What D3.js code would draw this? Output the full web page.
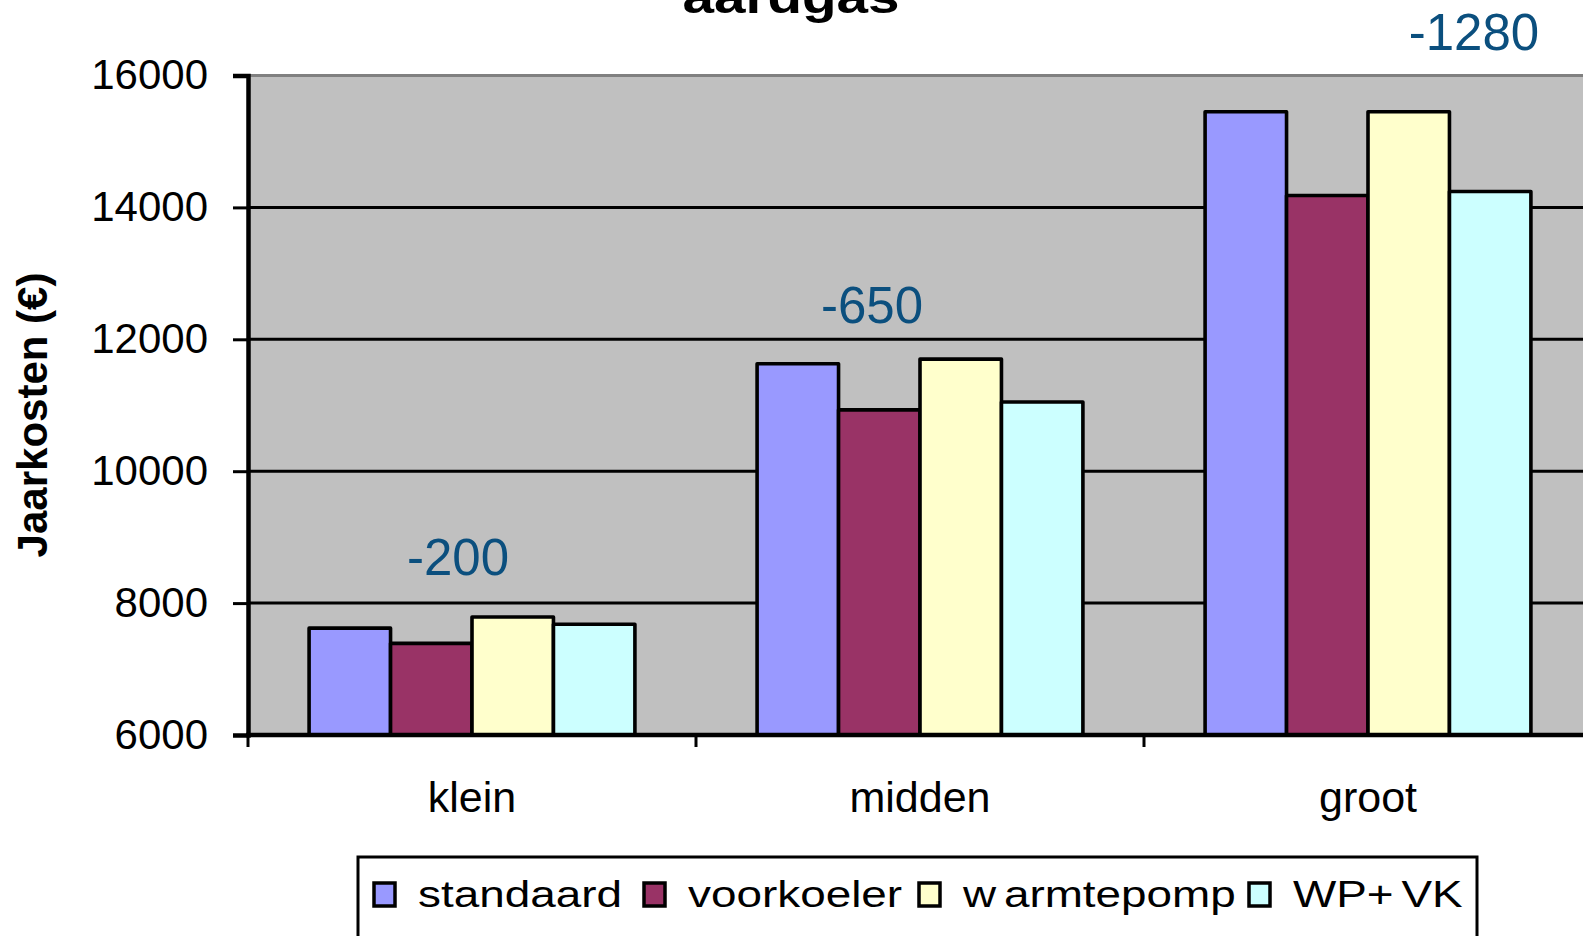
<!DOCTYPE html>
<html>
<head>
<meta charset="utf-8">
<script src="https://cdn.jsdelivr.net/npm/d3@7/dist/d3.min.js"></script>
<style>
  html, body { margin: 0; padding: 0; background: #fff; overflow: hidden; }
  svg { display: block; font-family: "Liberation Sans", Arial, sans-serif; }
</style>
</head>
<body>
<svg id="chart" width="1583" height="936"></svg>
<script>
// data
var categories = ["klein", "midden", "groot"];
var seriesNames = ["standaard", "voorkoeler", "w armtepomp", "WP+ VK"];
var standaard   = [7620, 11630, 15450];
var voorkoeler  = [7390, 10930, 14180];
var warmtepomp  = [7790, 11700, 15450];
var wpvk        = [7680, 11050, 14240];
var diffLabels  = ["-200", "-650", "-1280"];
var yTicks      = [6000, 8000, 10000, 12000, 14000, 16000];

var colors = ["#9999FF", "#993366", "#FFFFCC", "#CCFFFF"];
var values = [standaard, voorkoeler, warmtepomp, wpvk];

var svg = d3.select("#chart");

// plot area (right side runs past the window, like the original)
var plotLeft = 248, plotTop = 75.5, plotBottom = 735, catW = 448;
var plotRight = plotLeft + catW * categories.length;

var x = d3.scaleBand().domain(categories).range([plotLeft, plotRight]);
var xs = d3.scaleBand().domain(d3.range(seriesNames.length))
  .range([0, x.bandwidth()]).paddingOuter(0.75).paddingInner(0);
var y = d3.scaleLinear().domain([6000, 16000]).range([plotBottom, plotTop]);

svg.append("rect")
  .attr("x", plotLeft).attr("y", plotTop)
  .attr("width", plotRight - plotLeft).attr("height", plotBottom - plotTop)
  .attr("fill", "#C0C0C0");

// gridlines
svg.append("g").selectAll("line")
  .data(yTicks.filter(function(d){ return d > 6000 && d < 16000; }))
  .join("line")
  .attr("x1", plotLeft).attr("x2", plotRight)
  .attr("y1", function(d){ return y(d); }).attr("y2", function(d){ return y(d); })
  .attr("stroke", "#000").attr("stroke-width", 3);

// top border of plot
svg.append("line")
  .attr("x1", plotLeft).attr("x2", plotRight)
  .attr("y1", y(16000)).attr("y2", y(16000))
  .attr("stroke", "#808080").attr("stroke-width", 3);

// bars
var rows = [];
categories.forEach(function(c, i){
  values.forEach(function(s, j){ rows.push({cat: c, s: j, v: s[i]}); });
});
svg.append("g").selectAll("rect")
  .data(rows)
  .join("rect")
  .attr("x", function(d){ return x(d.cat) + xs(d.s); })
  .attr("y", function(d){ return y(d.v); })
  .attr("width", xs.bandwidth())
  .attr("height", function(d){ return y(6000) - y(d.v); })
  .attr("fill", function(d){ return colors[d.s]; })
  .attr("stroke", "#000").attr("stroke-width", 3.6)
  .attr("stroke-linejoin", "round");

// y axis
var yAxis = svg.append("g")
  .attr("transform", "translate(" + plotLeft + ",0)")
  .call(d3.axisLeft(y).tickValues(yTicks).tickSize(15).tickPadding(25).tickFormat(d3.format("d")));
yAxis.select(".domain").attr("stroke", "#000").attr("stroke-width", 4.5);
yAxis.selectAll(".tick line").attr("stroke", "#000").attr("stroke-width", 3);
yAxis.selectAll("text").attr("font-size", 42).attr("fill", "#000")
  .attr("font-family", "'Liberation Sans', Arial, sans-serif");

// x axis: line, ticks at category boundaries, labels at centres
svg.append("line")
  .attr("x1", plotLeft - 2).attr("x2", plotRight)
  .attr("y1", plotBottom).attr("y2", plotBottom)
  .attr("stroke", "#000").attr("stroke-width", 4.5);
svg.append("g").selectAll("line")
  .data(categories)
  .join("line")
  .attr("x1", function(d){ return x(d); }).attr("x2", function(d){ return x(d); })
  .attr("y1", plotBottom).attr("y2", plotBottom + 12)
  .attr("stroke", "#000").attr("stroke-width", 3);
svg.append("g").selectAll("text")
  .data(categories)
  .join("text")
  .attr("x", function(d){ return x(d) + x.bandwidth() / 2; })
  .attr("y", 811.5)
  .attr("text-anchor", "middle")
  .attr("font-size", 43)
  .text(function(d){ return d; });

// axis title
svg.append("text")
  .attr("transform", "translate(47,415) rotate(-90)")
  .attr("text-anchor", "middle")
  .attr("font-size", 42).attr("font-weight", "bold")
  .text("Jaarkosten (€)");

// chart title (mostly cut off at the top)
svg.append("text")
  .attr("transform", "translate(791,13) scale(1.23,1)")
  .attr("text-anchor", "middle")
  .attr("font-size", 46).attr("font-weight", "bold")
  .text("aardgas");

// difference labels, placed freely like the text boxes in the original
var labelOffsetX = [-14, -48, 106];
var labelAt = [8420, 12250, 16385];
svg.append("g").selectAll("text")
  .data(diffLabels)
  .join("text")
  .attr("x", function(d, i){ return x(categories[i]) + x.bandwidth() / 2 + labelOffsetX[i]; })
  .attr("y", function(d, i){ return y(labelAt[i]); })
  .attr("text-anchor", "middle")
  .attr("font-size", 51)
  .attr("fill", "#0B4F7E")
  .text(function(d){ return d; });

// legend
var lg = svg.append("g");
lg.append("rect")
  .attr("x", 358).attr("y", 857).attr("width", 1119).attr("height", 110)
  .attr("fill", "#fff").attr("stroke", "#000").attr("stroke-width", 3);
var legendX = [374, 644, 919, 1249];
seriesNames.forEach(function(name, i){
  var lx = legendX[i];
  lg.append("rect")
    .attr("x", lx).attr("y", 883).attr("width", 21).attr("height", 23)
    .attr("fill", colors[i]).attr("stroke", "#000").attr("stroke-width", 3.5);
  lg.append("text")
    .attr("transform", "translate(" + (lx + 44) + ",906.5) scale(1.24,1)")
    .attr("font-size", 37)
    .attr("word-spacing", -4)
    .text(name);
});
</script>
</body>
</html>
